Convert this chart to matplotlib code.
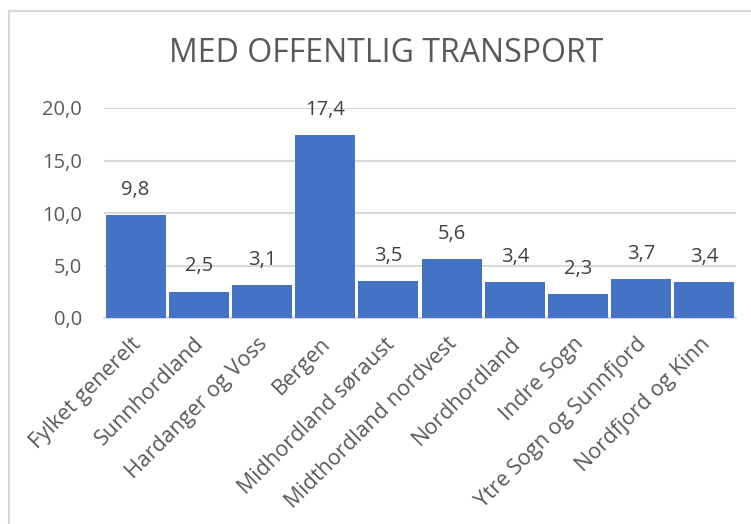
import matplotlib.pyplot as plt
from matplotlib.patches import Rectangle
from matplotlib.transforms import ScaledTranslation

# === Data ===
regions = ["Fylket generelt", "Sunnhordland", "Hardanger og Voss", "Bergen",
           "Midhordland søraust", "Midthordland nordvest", "Nordhordland",
           "Indre Sogn", "Ytre Sogn og Sunnfjord", "Nordfjord og Kinn"]
values = [9.8, 2.5, 3.1, 17.4, 3.5, 5.6, 3.4, 2.3, 3.7, 3.4]
y_ticks = [0, 5, 10, 15, 20]

plt.rcParams['font.family'] = ['Open Sans', 'DejaVu Sans']

W, H = 751, 524
fig = plt.figure(figsize=(W / 100, H / 100), dpi=100)

# chart frame (runs off the right and bottom edges)
fig.patches.append(Rectangle((9 / W, -0.2), 1.5, 1.2 - 11 / H, transform=fig.transFigure,
                             fill=False, edgecolor="#D9D9D9", linewidth=1.5))

ax = fig.add_axes([104 / W, 1 - 318 / H, (736 - 104) / W, (318 - 108) / H])
x = range(len(regions))
ax.bar(x, values, width=0.95, color="#4472C4", zorder=3)
ax.set_xlim(-0.5, len(regions) - 0.5)
ax.set_ylim(0, 20)
ax.set_yticks(y_ticks)
ax.set_yticklabels([f"{t:.1f}".replace(".", ",") for t in y_ticks],
                   fontsize=14.5, color="#595959")
ax.grid(axis="y", color="#D9D9D9", linewidth=1.5, zorder=0)
for s in ["top", "right", "left"]:
    ax.spines[s].set_visible(False)
ax.spines["bottom"].set_color("#D9D9D9")
ax.spines["bottom"].set_linewidth(1.5)
ax.tick_params(length=0)
ax.tick_params(axis="y", pad=16)
ax.tick_params(axis="x", pad=14)

ax.set_xticks(list(x))
ax.set_xticklabels(regions, rotation=45, ha="right", rotation_mode="anchor",
                   fontsize=15.5, color="#595959")
nudge = ScaledTranslation(-5 / 100, 4 / 100, fig.dpi_scale_trans)
for lbl in ax.get_xticklabels():
    lbl.set_transform(lbl.get_transform() + nudge)

for i, v in enumerate(values):
    ax.annotate(f"{v:.1f}".replace(".", ","), (i, v), xytext=(0, 11),
                textcoords="offset points", ha="center", va="bottom",
                fontsize=14.5, color="#404040")

fig.text(386 / W, 1 - 54 / H, "MED OFFENTLIG TRANSPORT", ha="center", va="center",
         fontsize=23, color="#595959")

fig.savefig("out.png", dpi=100)
